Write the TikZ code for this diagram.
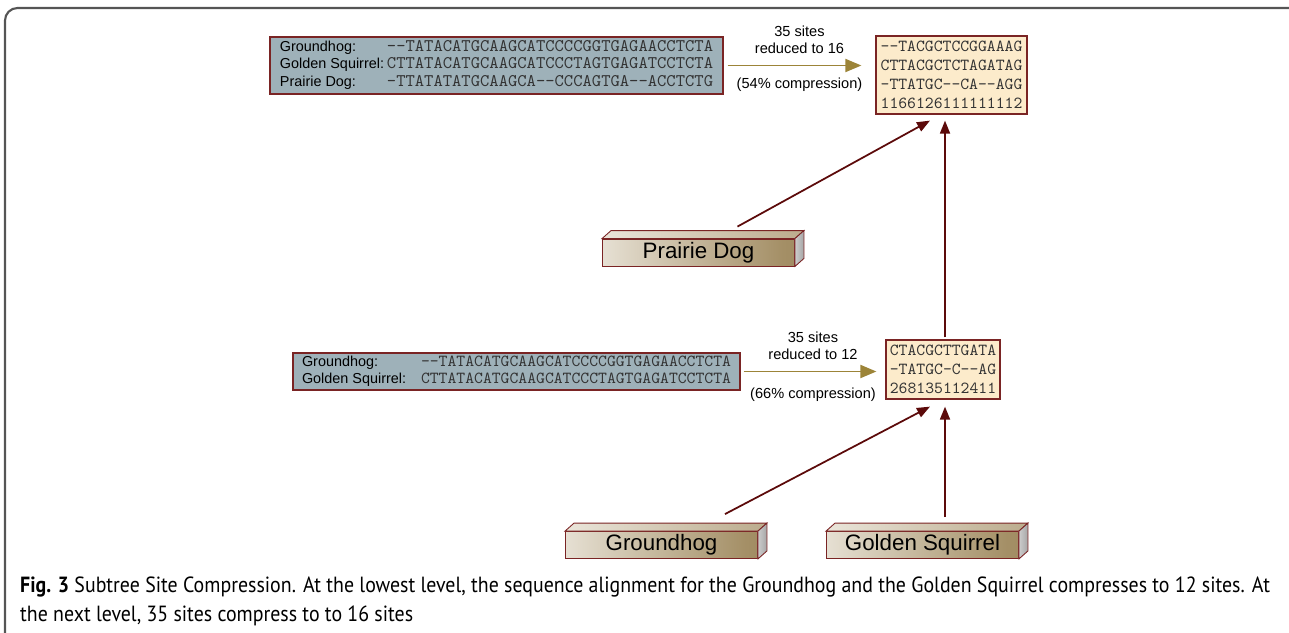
\documentclass[tikz,border=0pt]{standalone}
\usepackage{fontspec}
\setmainfont{Liberation Sans}
\newfontfamily\capfont[FakeStretch=0.905]{PT Sans}
\usetikzlibrary{arrows.meta,calc}

\definecolor{seqfill}{HTML}{9EB1B9}
\definecolor{resfill}{HTML}{FCEBCB}
\definecolor{boxline}{HTML}{7A2424}
\definecolor{linkred}{HTML}{5C0A0A}
\definecolor{flowgold}{HTML}{9C8438}
\definecolor{barA}{HTML}{A99A7E}
\definecolor{barB}{HTML}{EAE5DA}
\definecolor{barC}{HTML}{A48F66}
\definecolor{barD}{HTML}{8F7A4E}
\definecolor{frameline}{HTML}{555555}

\pgfdeclarehorizontalshading{barfront}{100bp}{color(0bp)=(barA); color(22bp)=(barB); color(72bp)=(barC); color(100bp)=(barD)}
\pgfdeclarehorizontalshading{bartopshade}{100bp}{color(0bp)=(barA); color(25bp)=(barB); color(100bp)=(barC)}
\pgfdeclarehorizontalshading{barsideshade}{100bp}{color(0bp)=(gray!25); color(100bp)=(gray!85)}

\newcommand\sq[1]{{\ttfamily\color{black!80}#1}}

\tikzset{
  seqbox/.style={draw=boxline,fill=seqfill,line width=0.7pt,inner sep=0pt,
    font=\fontsize{8.2}{9.9}\selectfont},
  resbox/.style={draw=boxline,fill=resfill,line width=0.7pt,inner sep=0pt,align=left,
    text=black!80,font=\fontsize{9.6}{10.8}\selectfont\ttfamily},
  bar/.style={draw=boxline,line width=0.5pt,shading=barfront,minimum width=3.84cm,
    minimum height=0.54cm,inner sep=0pt,font=\fontsize{12.7}{14}\selectfont},
  bartop/.style={draw=boxline,line width=0.5pt,shading=bartopshade},
  barside/.style={draw=boxline,line width=0.5pt,shading=barsideshade},
  flow/.style={draw=flowgold,line width=1.1pt,-{Triangle[length=0.32cm,width=0.26cm]}},
  flowtext/.style={font=\fontsize{8.3}{9.6}\selectfont,align=center,text=black},
  link/.style={draw=linkred,line width=1pt,-{Triangle[length=0.26cm,width=0.2cm]}},
  frame/.style={draw=frameline,line width=1.2pt,rounded corners=0.25cm}
}

\begin{document}
\begin{tikzpicture}
  \useasboundingbox (0,0) rectangle (25.78,-12.64);
  \draw[frame] (0.1,-12.7) -- (0.1,-0.16) -- (25.9,-0.16);

  % alignments
  \node[seqbox,minimum width=9.06cm,minimum height=1.14cm] (seqA) at (9.93,-1.31) {%
    \begin{tabular}{@{}p{2.14cm}@{}l@{}}
    Groundhog: & {\fontsize{10.1}{9.9}\selectfont\sq{--TATACATGCAAGCATCCCCGGTGAGAACCTCTA}}\\
    Golden Squirrel: & {\fontsize{10.1}{9.9}\selectfont\sq{CTTATACATGCAAGCATCCCTAGTGAGATCCTCTA}}\\
    Prairie Dog: & {\fontsize{10.1}{9.9}\selectfont\sq{-TTATATATGCAAGCA--CCCAGTGA--ACCTCTG}}
    \end{tabular}};
  \node[seqbox,minimum width=8.94cm,minimum height=0.74cm] (seqB) at (10.33,-7.43) {%
    \begin{tabular}{@{}p{2.38cm}@{}l@{}}
    Groundhog: & {\fontsize{9.6}{9.6}\selectfont\sq{--TATACATGCAAGCATCCCCGGTGAGAACCTCTA}}\\
    Golden Squirrel: & {\fontsize{9.6}{9.6}\selectfont\sq{CTTATACATGCAAGCATCCCTAGTGAGATCCTCTA}}
    \end{tabular}};

  % compressed sites
  \node[resbox,minimum width=3.02cm,minimum height=1.56cm] (res1) at (19.03,-1.50)
    {--TACGCTCCGGAAAG\\CTTACGCTCTAGATAG\\-TTATGC--CA--AGG\\1166126111111112};
  \node[resbox,minimum width=2.28cm,minimum height=1.18cm] (res2) at (18.86,-7.39)
    {CTACGCTTGATA\\-TATGC-C--AG\\268135112411};

  % taxa
  \node[bar] (pdog) at (13.97,-5.05) {Prairie Dog};
  \node[bar] (gh) at (13.23,-10.90) {Groundhog};
  \node[bar] (gs) at (18.45,-10.90) {Golden Squirrel};
  \foreach \b in {pdog,gh,gs}{
    \draw[bartop] (\b.north west) -- ++(0.18,0.16) -- ($(\b.north east)+(0.18,0.16)$)
      -- (\b.north east) -- cycle;
    \draw[barside] (\b.north east) -- ++(0.18,0.16) -- ($(\b.south east)+(0.18,0.16)$)
      -- (\b.south east) -- cycle;
  }

  % compression arrows
  \draw[flow,shorten <=0.08cm,shorten >=0.28cm] (seqA.east) -- (seqA.east -| res1.west)
    node[midway,above=0.1cm,flowtext] {35 sites\\reduced to 16}
    node[midway,below=0.12cm,flowtext] {(54\% compression)};
  \draw[flow,shorten <=0.06cm,shorten >=0.18cm] (seqB.east) -- (seqB.east -| res2.west)
    node[midway,above=0.1cm,flowtext] {35 sites\\reduced to 12}
    node[midway,below=0.2cm,flowtext] {(66\% compression)};

  % tree
  \draw[link] ([xshift=0.78cm,yshift=0.24cm]pdog.north) -- ([xshift=-0.43cm,yshift=-0.12cm]res1.south);
  \draw[link] ([xshift=0.04cm,yshift=0.04cm]res2.north) -- ($(res2.north |- res1.south)+(0.04,-0.12)$);
  \draw[link] ([xshift=1.27cm,yshift=0.34cm]gh.north) -- ([xshift=-0.26cm,yshift=-0.14cm]res2.south);
  \draw[link] ([xshift=0.45cm,yshift=0.28cm]gs.north) -- ([xshift=0.04cm,yshift=-0.14cm]res2.south);

  \node[anchor=base west,align=left,font=\capfont\fontsize{12.5}{16.5}\selectfont] (cap) at (0.28,-12.42)
    {{\bfseries Fig. 3} Subtree Site Compression. At the lowest level, the sequence alignment for the Groundhog and the Golden Squirrel compresses to 12 sites. At\\
     the next level, 35 sites compress to to 16 sites};
\end{tikzpicture}
\end{document}
